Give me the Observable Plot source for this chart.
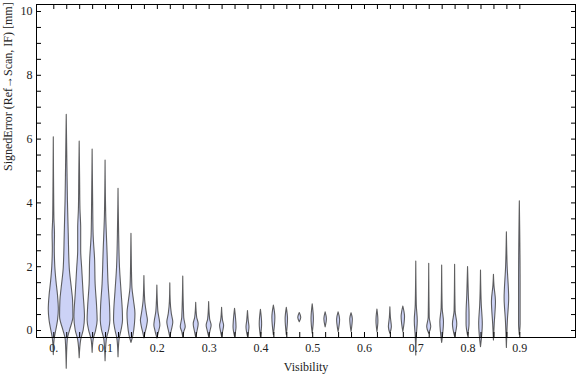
<!DOCTYPE html>
<html>
<head>
<meta charset="utf-8">
<script src="https://cdn.jsdelivr.net/npm/d3@7"></script>
<script src="https://cdn.jsdelivr.net/npm/@observablehq/plot@0.6"></script>
<style>
  html, body { margin: 0; padding: 0; background: #fff; }
</style>
</head>
<body>
<div id="chart"></div>
<script>
// Visibility categories (one violin each)
const visibility = [0, 0.025, 0.05, 0.075, 0.1, 0.125, 0.15, 0.175, 0.2, 0.225, 0.25, 0.275,
  0.3, 0.325, 0.35, 0.375, 0.4, 0.425, 0.45, 0.475, 0.5, 0.525, 0.55, 0.575,
  0.625, 0.65, 0.675, 0.7, 0.725, 0.75, 0.775, 0.8, 0.825, 0.85, 0.875, 0.9];

// Violin profiles: [signed error (mm), half-width of density (thousandths of visibility)]
const profiles = [
  [[-0.77,0],[-0.3,1.5],[0,4.8],[0.3,8.1],[0.65,9.7],[1.1,8.1],[1.5,5.4],[2,2.9],[2.6,1.9],[3.0,2.3],[3.5,1.2],[4.5,0.6],[6.06,0]],
  [[-1.2,0],[-0.3,1.9],[0,6.4],[0.42,12.9],[0.94,12.2],[1.3,10.0],[1.95,5.8],[3.0,3.9],[4.05,2.3],[5.1,1.35],[6.76,0]],
  [[-0.87,0],[-0.3,2.9],[0,7.7],[0.42,10.2],[1.12,7.7],[1.95,4.8],[2.5,2.9],[3.2,2.9],[3.8,1.5],[4.8,0.8],[5.92,0]],
  [[-0.7,0],[-0.3,1.9],[0,6.8],[0.31,9.7],[0.73,8.7],[1.45,5.8],[2.2,4.8],[3.0,1.9],[4.05,1.0],[5.67,0]],
  [[-0.96,0],[-0.3,2.3],[0,6.8],[0.31,9.3],[0.73,8.7],[1.45,5.8],[2.4,3.9],[3.55,1.35],[5.33,0]],
  [[-0.84,0],[-0.3,1.9],[0,5.8],[0.31,8.7],[0.6,8.3],[1.22,5.8],[1.95,2.9],[3.0,1.2],[4.44,0]],
  [[-0.39,0],[-0.15,3.9],[0.21,6.8],[0.52,7.7],[0.94,4.8],[1.33,1.9],[2.0,0.8],[3.03,0]],
  [[-0.25,0],[-0.1,1.9],[0.1,4.8],[0.31,6.8],[0.52,4.8],[0.94,1.5],[1.71,0]],
  [[-0.25,0],[0,3.9],[0.16,5.8],[0.31,4.8],[0.6,1.9],[1.41,0]],
  [[-0.22,0],[0,2.9],[0.25,5.8],[0.52,2.9],[0.9,0.8],[1.48,0]],
  [[-0.22,0],[-0.05,1.9],[0.1,4.8],[0.4,1.9],[1.69,0]],
  [[-0.22,0],[0,2.9],[0.2,4.8],[0.4,1.9],[0.87,0]],
  [[-0.2,0],[0,2.9],[0.15,4.8],[0.35,1.9],[0.89,0]],
  [[-0.2,0],[-0.05,1.9],[0.15,3.9],[0.3,1.9],[0.71,0]],
  [[-0.2,0],[0.1,2.9],[0.3,2.3],[0.68,0]],
  [[-0.2,0],[0.1,2.9],[0.3,1.5],[0.61,0]],
  [[-0.2,0],[0.2,2.3],[0.65,0]],
  [[-0.15,0],[0.4,2.9],[0.78,0]],
  [[-0.15,0],[0.35,2.3],[0.71,0]],
  [[0.26,0],[0.4,2.9],[0.55,0]],
  [[-0.1,0],[0.35,2.3],[0.82,0]],
  [[0.1,0],[0.35,2.5],[0.57,0]],
  [[-0.05,0],[0.34,2.9],[0.57,0]],
  [[-0.05,0],[0.35,2.5],[0.54,0]],
  [[-0.05,0],[0.3,1.9],[0.66,0]],
  [[-0.1,0],[0.1,2.9],[0.4,1.0],[0.73,0]],
  [[-0.05,0],[0.42,3.3],[0.75,0]],
  [[-0.78,0],[-0.2,1.0],[0.3,2.9],[0.8,1.0],[2.16,0]],
  [[-0.1,0],[0.1,3.9],[0.4,1.0],[2.09,0]],
  [[-0.39,0],[0.26,3.5],[0.7,1.0],[2.04,0]],
  [[-0.2,0],[0.2,4.2],[0.6,1.0],[2.06,0]],
  [[-0.16,0],[0.2,2.9],[0.5,2.9],[1.1,1.5],[1.99,0]],
  [[-0.52,0],[0.2,3.5],[0.8,1.5],[1.88,0]],
  [[-0.31,0],[0.2,1.5],[0.9,3.9],[1.4,1.0],[1.75,0]],
  [[-0.55,0],[0.3,1.9],[1.0,4.4],[2.0,1.5],[3.08,0]],
  [[-0.15,0],[0.2,1.5],[1.5,1.5],[4.05,0]]
];

// Tick positions and labels
const xTickValues = [0, 0.025, 0.05, 0.075, 0.1, 0.125, 0.15, 0.175, 0.2, 0.225, 0.25, 0.275,
  0.3, 0.325, 0.35, 0.375, 0.4, 0.425, 0.45, 0.475, 0.5, 0.525, 0.55, 0.575, 0.6,
  0.625, 0.65, 0.675, 0.7, 0.725, 0.75, 0.775, 0.8, 0.825, 0.85, 0.875, 0.9];
const xLabelValues = [0, 0.1, 0.2, 0.3, 0.4, 0.5, 0.6, 0.7, 0.8, 0.9];
const yTickValues = [0, 0.5, 1, 1.5, 2, 2.5, 3, 3.5, 4, 4.5, 5, 5.5, 6, 6.5, 7, 7.5, 8, 8.5, 9, 9.5, 10];
const yLabelValues = [0, 2, 4, 6, 8, 10];
const xTitle = "Visibility";
const yTitle = "SignedError (Ref\u2192Scan, IF) [mm]";

const rows = [];
visibility.forEach((v, i) => {
  profiles[i].forEach(([e, w]) => rows.push({vis: v, err: e, hw: w / 1000}));
});

const W = 576, H = 377;
const mL = 36, mR = 1, mT = 4, mB = 40;
const plotW = W - mL - mR, plotH = H - mT - mB;
const tickLen = 5;

const chart = Plot.plot({
  width: W,
  height: H,
  marginLeft: mL,
  marginRight: mR,
  marginTop: mT,
  marginBottom: mB,
  style: {fontFamily: "'Liberation Serif', 'Times New Roman', serif", fontSize: "12px", background: "white", overflow: "visible"},
  x: {domain: [-0.0334, 1.0075], axis: null},
  y: {domain: [-0.219, 10.219], axis: null},
  marks: [
    Plot.areaX(rows, {
      y: "err",
      x1: d => d.vis - d.hw,
      x2: d => d.vis + d.hw,
      z: "vis",
      curve: "monotone-y",
      fill: "#ccd2f6",
      stroke: "#444",
      strokeWidth: 1.1,
      strokeOpacity: 0.85,
      clip: false
    }),
    Plot.frame({stroke: "black", strokeWidth: 1}),
    // bottom & top ticks (inward)
    Plot.tickX(xTickValues, {x: d => d, insetTop: plotH - tickLen, stroke: "black"}),
    Plot.tickX(xTickValues, {x: d => d, insetBottom: plotH - tickLen, stroke: "black"}),
    // left & right ticks (inward)
    Plot.tickY(yTickValues, {y: d => d, insetRight: plotW - tickLen, stroke: "black"}),
    Plot.tickY(yTickValues, {y: d => d, insetLeft: plotW - tickLen + 1, stroke: "black"}),
    Plot.axisX(xLabelValues, {
      anchor: "bottom", tickSize: 0, tickPadding: 6, label: null,
      tickFormat: d => d === 0 ? "0." : d.toFixed(1), fill: "#222", fontSize: 12
    }),
    Plot.axisY(yLabelValues, {
      anchor: "left", tickSize: 0, tickPadding: 4, label: null,
      tickFormat: d => String(d), fill: "#222", fontSize: 12
    }),
    Plot.text([xTitle], {frameAnchor: "bottom", dy: 33, text: d => d, fill: "#222", fontSize: 12}),
    Plot.text([yTitle], {frameAnchor: "left", dx: -28, rotate: -90, text: d => d, fill: "#222", fontSize: 12})
  ]
});

document.getElementById("chart").appendChild(chart);
</script>
</body>
</html>
